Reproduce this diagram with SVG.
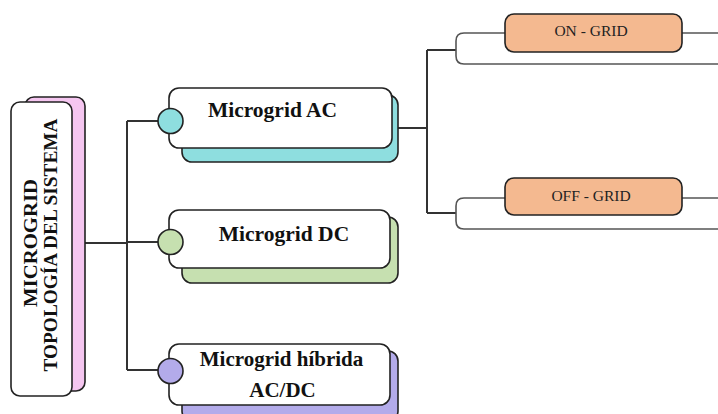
<svg xmlns="http://www.w3.org/2000/svg" width="718" height="414" viewBox="0 0 718 414">
<style>
.box{fill:#fff;stroke:#222;stroke-width:1.6}
.sh{stroke:#222;stroke-width:1.6}
.conn{fill:none;stroke:#333;stroke-width:2}
.br{fill:none;stroke:#555;stroke-width:1.6}
.t{font-family:"Liberation Serif","Times New Roman",serif;font-weight:bold;fill:#111;text-anchor:middle}
.g{font-family:"Liberation Serif","Times New Roman",serif;fill:#222;text-anchor:middle;font-size:15.5px}
.grid{fill:#F4B990;stroke:#222;stroke-width:1.6}
</style>
<rect width="718" height="414" fill="#fff"/>
<g id="connectors">
<path class="conn" d="M85 243 H127 M127 121 V370 M127 121 H158 M127 242 H158 M127 370 H158"/>
<path class="conn" d="M398 128 H427 M427 50 V213 M427 50 H456 M427 213 H456"/>
<path class="br" d="M718 33 H464 Q456 33 456 41 V56 Q456 64 464 64 H718"/>
<path class="br" d="M718 198 H464 Q456 198 456 206 V221 Q456 229 464 229 H718"/>
</g>
<g id="root">
<rect class="sh" x="25" y="97" width="60" height="294" rx="9" fill="#F5C6F0"/>
<rect class="box" x="11" y="102" width="61" height="294" rx="9"/>
<text class="t" font-size="19" transform="translate(37,243) rotate(-90)" textLength="128" lengthAdjust="spacingAndGlyphs">MICROGRID</text>
<text class="t" font-size="19" transform="translate(57,245) rotate(-90)" textLength="253" lengthAdjust="spacingAndGlyphs">TOPOLOGÍA DEL SISTEMA</text>
</g>
<g id="ac">
<rect class="sh" x="182" y="95" width="216" height="67" rx="10" fill="#8EDEDF"/>
<rect class="box" x="169" y="88" width="223" height="60" rx="10"/>
<circle class="sh" cx="170.5" cy="121" r="12.5" fill="#8EDEDF"/>
<text class="t" font-size="21.5" x="272.5" y="117">Microgrid AC</text>
</g>
<g id="dc">
<rect class="sh" x="182" y="217" width="216" height="66" rx="10" fill="#C6E0B0"/>
<rect class="box" x="169" y="210" width="221" height="58" rx="10"/>
<circle class="sh" cx="170.5" cy="242" r="12.5" fill="#C6E0B0"/>
<text class="t" font-size="21.5" x="284" y="240.5">Microgrid DC</text>
</g>
<g id="hybrid">
<rect class="sh" x="182" y="351" width="216" height="70" rx="10" fill="#B3ABEA"/>
<rect class="box" x="169" y="344" width="221" height="61" rx="10"/>
<circle class="sh" cx="170.5" cy="371" r="12.5" fill="#B3ABEA"/>
<text class="t" font-size="21" x="281.5" y="365.5">Microgrid híbrida</text>
<text class="t" font-size="21" x="282.5" y="397">AC/DC</text>
</g>
<g id="ongrid">
<rect class="grid" x="505" y="14" width="177" height="38" rx="9"/>
<text class="g" x="591" y="36">ON - GRID</text>
</g>
<g id="offgrid">
<rect class="grid" x="505" y="178" width="177" height="37" rx="9"/>
<text class="g" x="591" y="201">OFF - GRID</text>
</g>
</svg>
